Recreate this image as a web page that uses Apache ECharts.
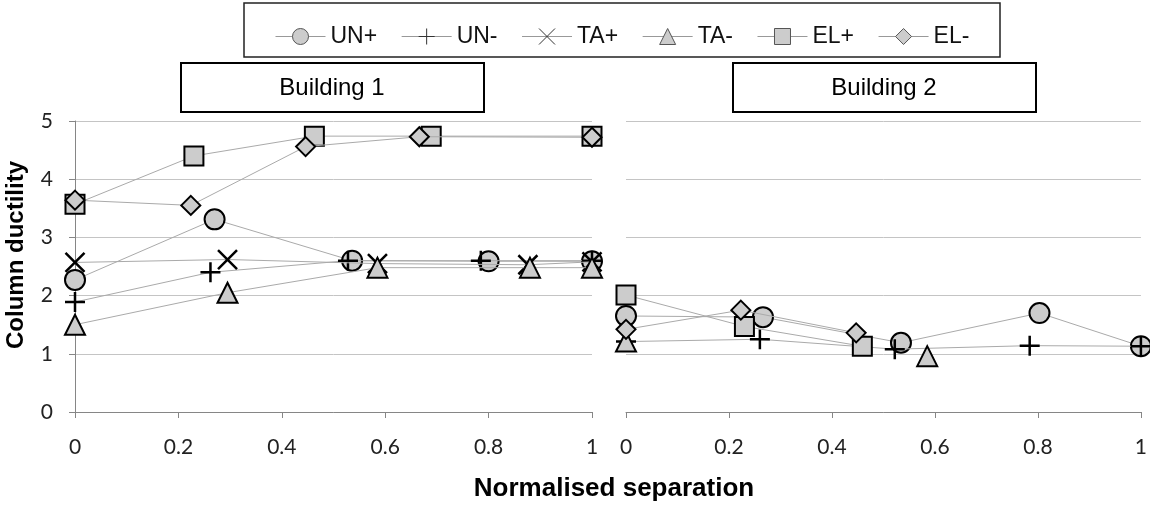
<!DOCTYPE html>
<html>
<head>
<meta charset="utf-8">
<script src="https://cdn.jsdelivr.net/npm/echarts@6/dist/echarts.min.js"></script>
<style>
html,body{margin:0;padding:0;background:#fff;}
#c{width:1150px;height:505px;}
</style>
</head>
<body>
<div id="c"></div>
<script>
// ---- data ----
var seriesNames = ['UN+', 'UN-', 'TA+', 'TA-', 'EL+', 'EL-'];
var panelTitles = ['Building 1', 'Building 2'];
var xTicks = [0, 0.2, 0.4, 0.6, 0.8, 1];
var yTicks = [0, 1, 2, 3, 4, 5];
var xTitle = 'Normalised separation';
var yTitle = 'Column ductility';

// Building 1: [normalised separation, column ductility]
var b1_UNp = [[0, 2.27], [0.27, 3.31], [0.536, 2.60], [0.80, 2.59], [1.0, 2.59]];
var b1_UNm = [[0, 1.89], [0.262, 2.40], [0.528, 2.60], [0.785, 2.60], [1.0, 2.60]];
var b1_TAp = [[0, 2.57], [0.295, 2.62], [0.585, 2.55], [0.876, 2.53], [1.0, 2.58]];
var b1_TAm = [[0, 1.50], [0.295, 2.05], [0.585, 2.48], [0.88, 2.48], [1.0, 2.48]];
var b1_ELp = [[0, 3.57], [0.23, 4.40], [0.463, 4.74], [0.689, 4.74], [1.0, 4.74]];
var b1_ELm = [[0, 3.64], [0.224, 3.55], [0.446, 4.56], [0.666, 4.73], [1.0, 4.72]];

// Building 2
var b2_UNp = [[0, 1.65], [0.266, 1.63], [0.534, 1.19], [0.803, 1.70], [1.0, 1.13]];
var b2_UNm = [[0, 1.21], [0.26, 1.25], [0.522, 1.08], [0.784, 1.14], [1.0, 1.13]];
var b2_TAm = [[0, 1.21], [0.3, '-'], [0.585, 0.96]];
var b2_ELp = [[0, 2.01], [0.23, 1.47], [0.459, 1.13]];
var b2_ELm = [[0, 1.42], [0.223, 1.75], [0.447, 1.36]];

var b1 = [b1_UNp, b1_UNm, b1_TAp, b1_TAm, b1_ELp, b1_ELm];
var b2 = [b2_UNp, b2_UNm, null, b2_TAm, b2_ELp, b2_ELm];

// ---- styles ----
var PLUS = 'path://M10,0L10,20M0,10L20,10';
var CROSS = 'path://M0,0L20,20M20,0L0,20';
var symbols = ['circle', PLUS, CROSS, 'triangle', 'rect', 'diamond'];
var sizes = [20, 20, 19, 20, 19, 19];
var FILL = '#cccccc';
var LINE = '#aaaaaa';
var AXIS = '#868686';
var GRID = '#c4c4c4';
var TICKFONT = 'Lato, "Open Sans", sans-serif';
var ARIAL = '"Liberation Sans", Arial, sans-serif';

function isPath(i) { return i === 1 || i === 2; }

function mkSeries(i, data, gi) {
  return {
    name: seriesNames[i],
    type: 'line',
    xAxisIndex: gi,
    yAxisIndex: gi,
    data: data,
    symbol: symbols[i],
    symbolSize: sizes[i],
    showAllSymbol: true,
    connectNulls: false,
    animation: false,
    lineStyle: { color: LINE, width: 1 },
    itemStyle: isPath(i)
      ? { color: '#000', borderColor: '#000', borderWidth: 2.5 }
      : { color: FILL, borderColor: '#000', borderWidth: 2 },
    emphasis: { disabled: true },
    z: 2 + i
  };
}

var series = [];
b1.forEach(function (d, i) { if (d) series.push(mkSeries(i, d, 0)); });
b2.forEach(function (d, i) { if (d) series.push(mkSeries(i, d, 1)); });

function xAxisCfg(gi) {
  return {
    type: 'value', gridIndex: gi, min: xTicks[0], max: xTicks[xTicks.length - 1], interval: 0.2,
    axisLine: { show: true, lineStyle: { color: AXIS, width: 1 } },
    axisTick: { show: true, length: 6, lineStyle: { color: AXIS } },
    splitLine: { show: false },
    axisLabel: { margin: 25, fontSize: 21, fontFamily: TICKFONT, color: '#222',
      formatter: function (v) { return String(Math.round(v * 10) / 10); } }
  };
}
function yAxisCfg(gi) {
  var left = gi === 0;
  return {
    type: 'value', gridIndex: gi, min: yTicks[0], max: yTicks[yTicks.length - 1], interval: 1,
    axisLine: { show: left, lineStyle: { color: AXIS, width: 1 } },
    axisTick: { show: left, length: 6, lineStyle: { color: AXIS } },
    splitLine: { show: true, lineStyle: { color: GRID, width: 1 } },
    axisLabel: { show: left, margin: 22, fontSize: 21, fontFamily: TICKFONT, color: '#222' }
  };
}

var legendData = seriesNames.map(function (n, i) {
  return {
    name: n,
    itemStyle: isPath(i)
      ? { color: '#333', borderColor: '#333', borderWidth: 1 }
      : { color: FILL, borderColor: '#555', borderWidth: 1 }
  };
});

var chart = echarts.init(document.getElementById('c'), null, { renderer: 'canvas' });
chart.setOption({
  animation: false,
  backgroundColor: '#fff',
  grid: [
    { left: 75, right: 1150 - 592, top: 121, bottom: 505 - 412 },
    { left: 626, right: 1150 - 1141, top: 121, bottom: 505 - 412 }
  ],
  xAxis: [xAxisCfg(0), xAxisCfg(1)],
  yAxis: [yAxisCfg(0), yAxisCfg(1)],
  legend: {
    data: legendData,
    left: 270, top: 20,
    itemWidth: 50, itemHeight: 20, itemGap: 24,
    selectedMode: false,
    lineStyle: { color: '#999', width: 1 },
    textStyle: { fontSize: 23, fontFamily: ARIAL, color: '#111' }
  },
  graphic: [
    { type: 'rect', z: 0, shape: { x: 244, y: 3, width: 756, height: 54 },
      style: { fill: '#fff', stroke: '#222', lineWidth: 1.5 } },
    { type: 'rect', z: 0, shape: { x: 181, y: 63, width: 303, height: 49 },
      style: { fill: '#fff', stroke: '#000', lineWidth: 2 } },
    { type: 'rect', z: 0, shape: { x: 733, y: 63, width: 303, height: 49 },
      style: { fill: '#fff', stroke: '#000', lineWidth: 2 } },
    { type: 'text', z: 1, x: 332, y: 88,
      style: { text: panelTitles[0], fontSize: 24, fontFamily: ARIAL, fill: '#000', textAlign: 'center', textVerticalAlign: 'middle' } },
    { type: 'text', z: 1, x: 884, y: 88,
      style: { text: panelTitles[1], fontSize: 24, fontFamily: ARIAL, fill: '#000', textAlign: 'center', textVerticalAlign: 'middle' } },
    { type: 'text', z: 1, x: 614, y: 489,
      style: { text: xTitle, fontSize: 26, fontWeight: 'bold', fontFamily: ARIAL, fill: '#000', textAlign: 'center', textVerticalAlign: 'middle' } },
    { type: 'text', z: 1, x: 16, y: 255, rotation: Math.PI / 2,
      style: { text: yTitle, fontSize: 24, fontWeight: 'bold', fontFamily: ARIAL, fill: '#000', textAlign: 'center', textVerticalAlign: 'middle' } }
  ],
  series: series
});
</script>
</body>
</html>
